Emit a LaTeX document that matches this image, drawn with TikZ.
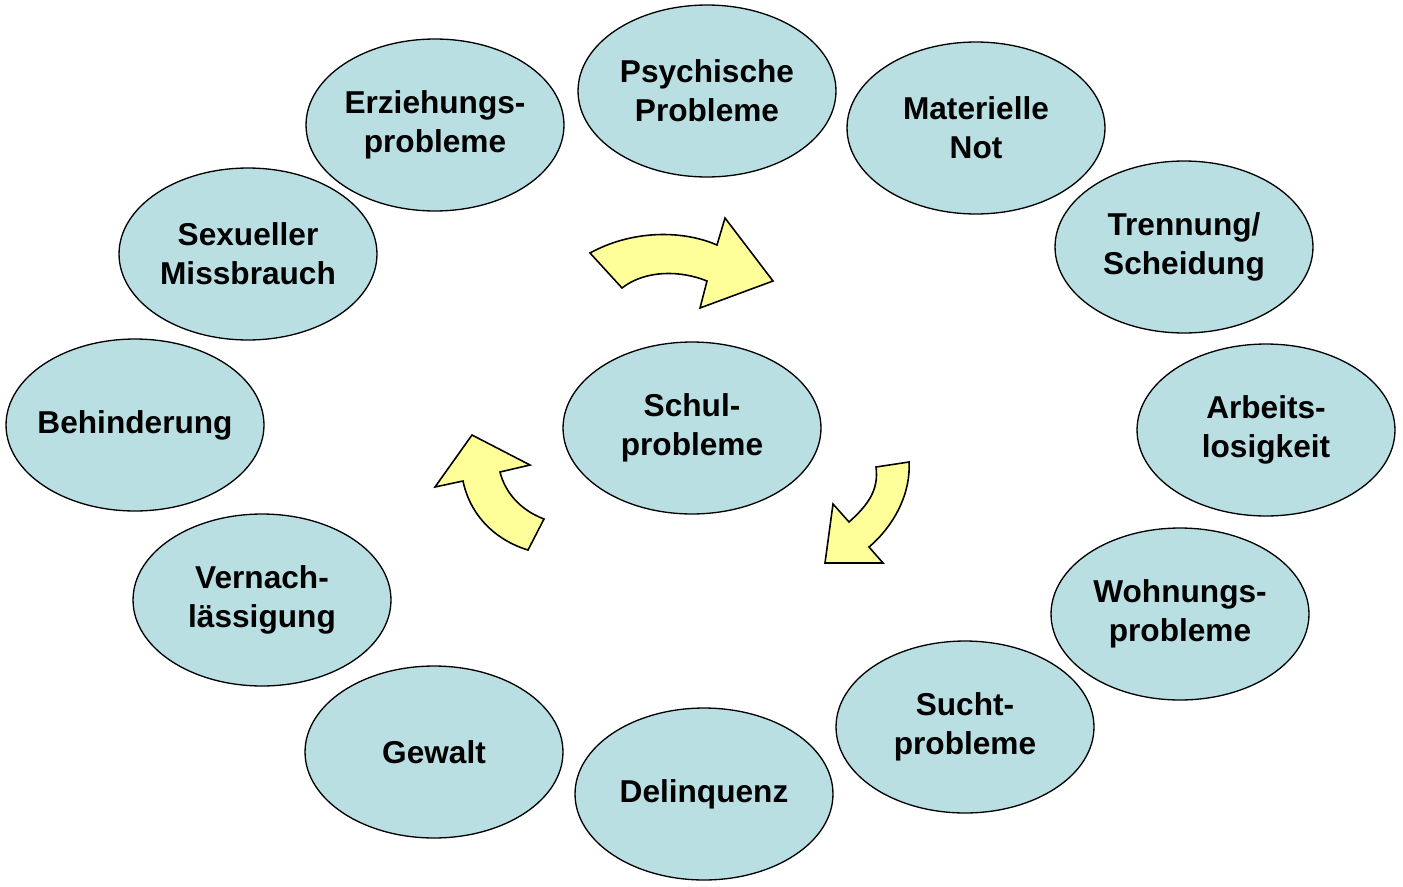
\documentclass[tikz,border=0pt]{standalone}
\usepackage{fontspec}
\setmainfont{Liberation Sans}
\usetikzlibrary{shapes.geometric}
\definecolor{ellfill}{RGB}{185,223,227}
\definecolor{arrfill}{RGB}{255,255,153}
\begin{document}
\begin{tikzpicture}[x=0.02cm,y=-0.02cm,
  blob/.style={ellipse,draw=black,fill=ellfill,line width=0.75pt,minimum width=5.16cm,minimum height=3.44cm,inner sep=0pt,align=center,font=\fontsize{18}{22}\selectfont\bfseries},
  bigarrow/.style={draw=black,fill=arrfill,line width=0.9pt,line join=miter}]
\useasboundingbox (0,0) rectangle (1403,886);
\node[blob] (psy) at (707,91) {Psychische\\Probleme};
\node[blob] (mat) at (976,128) {Materielle\\Not};
\node[blob] (tre) at (1184,247) {Trennung/\\Scheidung};
\node[blob] (arb) at (1266,430) {Arbeits-\\losigkeit};
\node[blob] (woh) at (1180,614) {Wohnungs-\\probleme};
\node[blob] (suc) at (965,727) {Sucht-\\probleme};
\node[blob] (del) at (704,794) {Delinquenz};
\node[blob] (gew) at (434,752) {Gewalt};
\node[blob] (ver) at (262,600) {Vernach-\\lässigung};
\node[blob] (beh) at (135,425) {\makebox[3cm]{Behinderung}};
\node[blob] (sex) at (248,254) {Sexueller\\Missbrauch};
\node[blob] (erz) at (435,125) {Erziehungs-\\probleme};
\node[blob] (sch) at (692,428) {Schul-\\probleme};
% curved block arrows
\draw[bigarrow] (590,253) .. controls (630,231) and (680,229) .. (717,245) -- (725,218) -- (773,281) -- (700,308) -- (707,281) .. controls (680,270) and (645,270) .. (622,288) -- cycle;
\draw[bigarrow] (909,462) .. controls (911,492) and (895,525) .. (869,547) -- (883,563) -- (825,563) -- (833,504) -- (849,522) .. controls (868,505) and (879,490) .. (876,467) -- cycle;
\draw[bigarrow] (528,550) .. controls (495,540) and (470,515) .. (463,481) -- (435,487) -- (472,435) -- (530,465) -- (500,472) .. controls (505,492) and (520,510) .. (544,519) -- cycle;
\end{tikzpicture}
\end{document}
